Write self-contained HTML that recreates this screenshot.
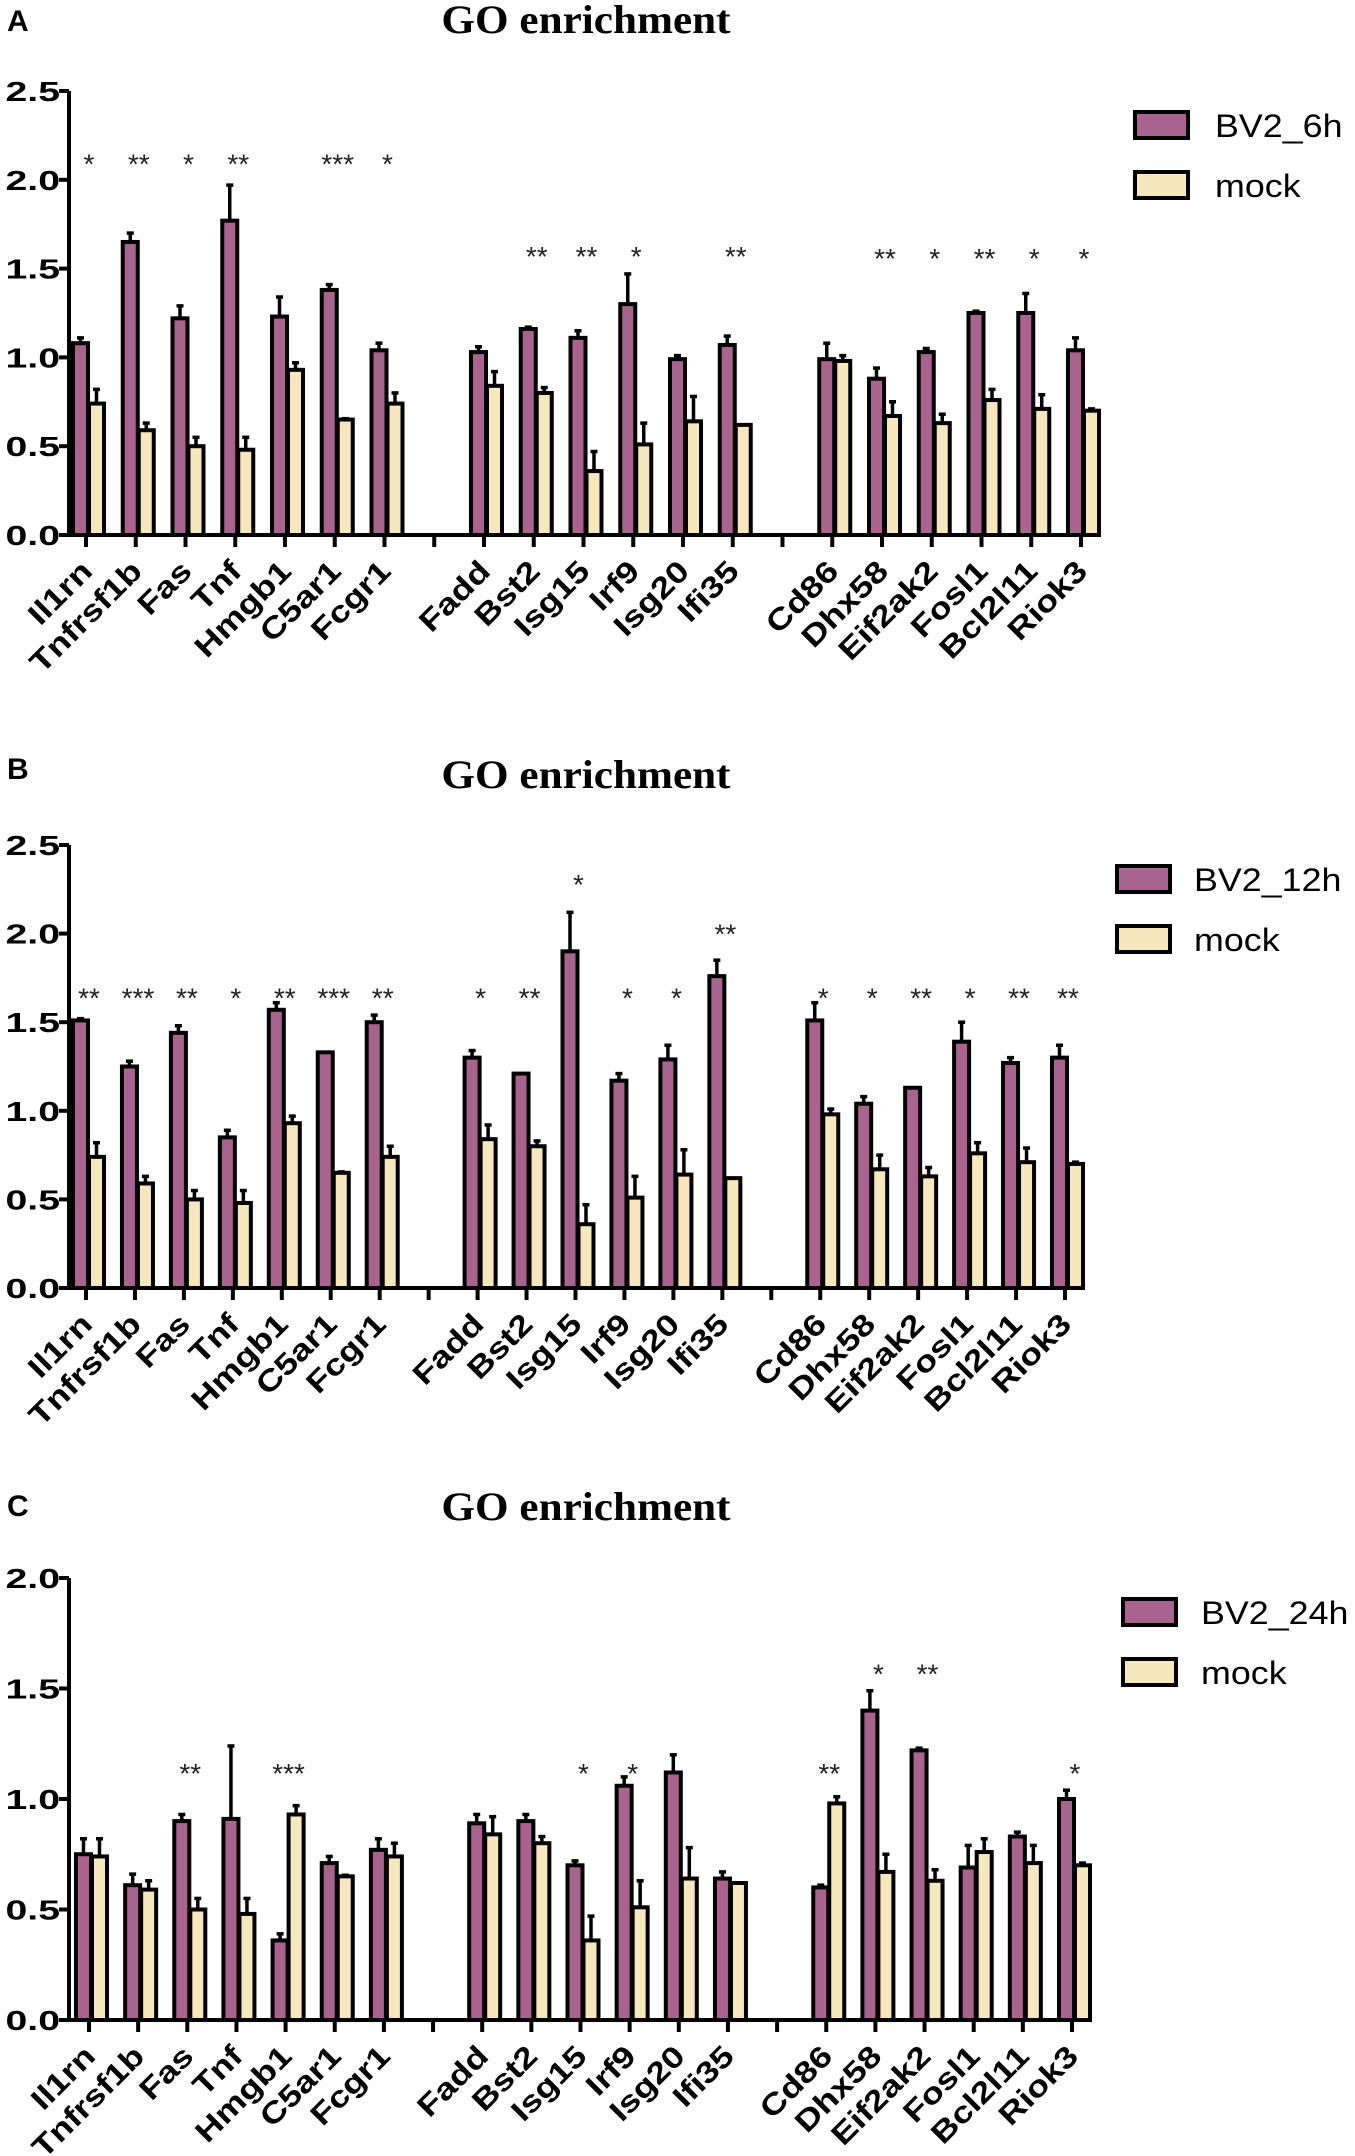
<!DOCTYPE html>
<html><head><meta charset="utf-8">
<style>
html,body{margin:0;padding:0;background:#fff;}
svg{display:block;}
</style></head>
<body>
<svg id="fig" width="1355" height="2156" viewBox="0 0 1355 2156" xmlns="http://www.w3.org/2000/svg"></svg>
<script>
const genes = ["Il1rn","Tnfrsf1b","Fas","Tnf","Hmgb1","C5ar1","Fcgr1","","Fadd","Bst2","Isg15","Irf9","Isg20","Ifi35","","Cd86","Dhx58","Eif2ak2","Fosl1","Bcl2l11","Riok3"];
const mockVals = [0.74,0.59,0.50,0.48,0.93,0.65,0.74,null,0.84,0.80,0.36,0.51,0.64,0.62,null,0.98,0.67,0.63,0.76,0.71,0.70];
const mockErr  = [0.82,0.63,0.55,0.55,0.97,0.655,0.80,null,0.92,0.83,0.47,0.63,0.78,0.62,null,1.01,0.75,0.68,0.82,0.79,0.71];
const a6Vals = [1.08,1.65,1.22,1.77,1.23,1.38,1.04,null,1.03,1.16,1.11,1.30,0.99,1.07,null,0.99,0.88,1.03,1.25,1.25,1.04];
const a6Err  = [1.11,1.70,1.29,1.97,1.34,1.41,1.08,null,1.06,1.17,1.15,1.47,1.01,1.12,null,1.08,0.94,1.05,1.26,1.36,1.11];
const a6Stars = ["*","**","*","**","","***","*","","","**","**","*","","**","","","**","*","**","*","*"];
const a6StarY = [2.13,2.13,2.13,2.13,2.13,2.13,2.13,0,1.61,1.61,1.61,1.61,1.61,1.61,0,1.6,1.6,1.6,1.6,1.6,1.6];
const b12Vals = [1.51,1.25,1.44,0.85,1.57,1.33,1.50,null,1.30,1.21,1.90,1.17,1.29,1.76,null,1.51,1.04,1.13,1.39,1.27,1.30];
const b12Err  = [1.52,1.28,1.48,0.89,1.61,1.33,1.54,null,1.34,1.21,2.12,1.21,1.37,1.85,null,1.61,1.08,1.13,1.50,1.30,1.37];
const b12Stars = ["**","***","**","*","**","***","**","","*","**","*","*","*","**","","*","*","**","*","**","**"];
const b12StarY = [1.68,1.68,1.68,1.68,1.68,1.68,1.68,0,1.68,1.68,2.32,1.68,1.68,2.04,0,1.68,1.68,1.68,1.68,1.68,1.68];
const c24Vals = [0.75,0.61,0.90,0.91,0.36,0.71,0.77,null,0.89,0.90,0.70,1.06,1.12,0.64,null,0.60,1.40,1.22,0.69,0.83,1.00];
const c24Err  = [0.82,0.66,0.93,1.24,0.39,0.74,0.82,null,0.93,0.93,0.72,1.10,1.20,0.67,null,0.61,1.49,1.23,0.79,0.85,1.04];
const c24Stars = ["","","**","","***","","","","","","*","*","","","","**","*","**","","","*"];
const c24StarY = [0,0,1.15,0,1.15,0,0,0,0,0,1.15,1.15,0,0,0,1.15,1.6,1.6,0,0,1.15];
const yTicksAB = [0,0.5,1.0,1.5,2.0,2.5];
const yTicksC = [0,0.5,1.0,1.5,2.0];

const NS="http://www.w3.org/2000/svg";
const svg=document.getElementById('fig');
function mk(tag,attrs,parent){const e=document.createElementNS(NS,tag);for(const k in attrs)e.setAttribute(k,attrs[k]);(parent||svg).appendChild(e);return e;}

const panels=[
 {letter:"A",labelY:31,titleY:33,y0:535,yTop:91,yMax:2.5,ticks:yTicksAB,x0:86,dx:49.75,xEnd:1100,vals:a6Vals,err:a6Err,stars:a6Stars,starY:a6StarY,leg:"BV2_6h",legX:1135,legY:112,legTX:1215},
 {letter:"B",labelY:779,titleY:788,y0:1288,yTop:845,yMax:2.5,ticks:yTicksAB,x0:86,dx:48.95,xEnd:1084,vals:b12Vals,err:b12Err,stars:b12Stars,starY:b12StarY,leg:"BV2_12h",legX:1117,legY:866,legTX:1194},
 {letter:"C",labelY:1516,titleY:1520,y0:2020,yTop:1578,yMax:2.0,ticks:yTicksC,x0:89,dx:49.15,xEnd:1091,vals:c24Vals,err:c24Err,stars:c24Stars,starY:c24StarY,leg:"BV2_24h",legX:1123,legY:1599,legTX:1201}
];

panels.forEach(p=>{
  const g=mk('g',{});
  
  
  const yS=v=>p.y0-(v/p.yMax)*(p.y0-p.yTop);
  const xS=i=>p.x0+i*p.dx;
  const lab=mk('text',{x:7,y:p.labelY,'font-family':'Liberation Sans, sans-serif','font-weight':'bold','font-size':30},g);
  lab.textContent=p.letter;
  
  
  const t=mk('text',{x:586,y:p.titleY,'text-anchor':'middle','font-family':'Liberation Serif, serif','font-weight':'bold','font-size':40,transform:`translate(586 0) scale(1.08 1) translate(-586 0)`},g);
  t.textContent="GO enrichment";
  
  
  genes.forEach((gn,i)=>{
    if(p.vals[i]==null) return;
    const c=xS(i);
    const pairs=[[p.vals[i],p.err[i],c-13,'#a8648f','bar-treated-'+gn.toLowerCase()],[mockVals[i],mockErr[i],c+3,'#f6e7bd','bar-mock-'+gn.toLowerCase()]];
    pairs.forEach(([v,e,x,col,nm])=>{
      const cx=x+7.5;
      if(e>v){
        const el=mk('line',{x1:cx,x2:cx,y1:yS(v),y2:yS(e),stroke:'#000','stroke-width':3.5},g);
        
        
        const cap=mk('line',{x1:cx-3.5,x2:cx+3.5,y1:yS(e),y2:yS(e),stroke:'#000','stroke-width':3.5},g);
        
        
      }
      const r=mk('rect',{x:x,y:yS(v),width:15,height:p.y0-yS(v),fill:col,stroke:'#000','stroke-width':4},g);
      
      
    });
    if(p.stars[i]){
      const s=mk('text',{x:c+3,y:yS(p.starY[i])+17,'text-anchor':'middle','font-family':'Liberation Sans, sans-serif','font-size':28,fill:'#222'},g);
      s.textContent=p.stars[i];
      
      
    }
  });
  const ya=mk('line',{x1:69,x2:69,y1:p.yTop,y2:p.y0+2,stroke:'#000','stroke-width':4},g);
  
  
  const xa=mk('line',{x1:67,x2:p.xEnd,y1:p.y0,y2:p.y0,stroke:'#000','stroke-width':4},g);
  
  
  p.ticks.forEach(v=>{
    const tk=mk('line',{x1:59,x2:69,y1:yS(v),y2:yS(v),stroke:'#000','stroke-width':4},g);
    
    
    const tl=mk('text',{x:0,y:0,'text-anchor':'end','font-family':'Liberation Sans, sans-serif','font-weight':'bold','font-size':28,transform:`translate(60 ${yS(v)+10}) scale(1.4 1)`},g);
    tl.textContent=v.toFixed(1);
    
    
  });
  genes.forEach((gn,i)=>{
    const c=xS(i);
    const tk=mk('line',{x1:c,x2:c,y1:p.y0,y2:p.y0+12,stroke:'#000','stroke-width':4},g);
    
    
    if(!gn) return;
    const tx=c+8, ty=p.y0+38;
    const tl=mk('text',{x:0,y:0,'text-anchor':'end','font-family':'Liberation Sans, sans-serif','font-weight':'bold','font-size':30,transform:`translate(${tx} ${ty}) rotate(-45) scale(1.2 1)`},g);
    tl.textContent=gn;
    
    
  });
  [[p.leg,'#a8648f',0],['mock','#f6e7bd',60]].forEach(([name,col,off])=>{
    const b=mk('rect',{x:p.legX,y:p.legY+off,width:53,height:26,fill:col,stroke:'#000','stroke-width':4},g);
    
    
    const lt=mk('text',{x:0,y:0,'font-family':'Liberation Sans, sans-serif','font-size':32,transform:`translate(${p.legTX} ${p.legY+off+25}) scale(1.12 1)`},g);
    lt.textContent=name;
    
    
  });
});
</script>
</body></html>
